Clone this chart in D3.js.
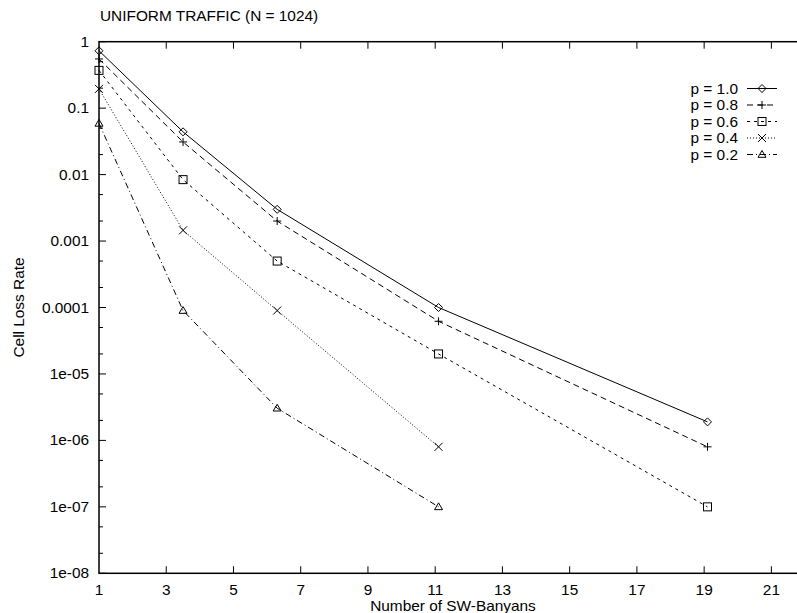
<!DOCTYPE html>
<html>
<head>
<meta charset="utf-8">
<script src="https://cdn.jsdelivr.net/npm/d3@7"></script>
<style>
  body { margin: 0; background: #fff; }
  text { font-family: "Liberation Sans", Arial, sans-serif; fill: #000; font-size: 14px; }
</style>
</head>
<body>
<div id="chart"></div>
<script>
// data
const xValues = [1, 3.5, 6.3, 11.1, 19.1];
const p10 = [0.73, 0.044, 0.003, 0.0001, 1.9e-6];
const p08 = [0.55, 0.031, 0.002, 6.2e-5, 8e-7];
const p06 = [0.37, 0.0084, 0.0005, 2.0e-5, 1e-7];
const p04 = [0.195, 0.00145, 9e-5, 8e-7];
const p02 = [0.059, 9e-5, 3.05e-6, 1e-7];
const seriesNames = ['p = 1.0', 'p = 0.8', 'p = 0.6', 'p = 0.4', 'p = 0.2'];
const xTicks = [1, 3, 5, 7, 9, 11, 13, 15, 17, 19, 21];
const yTickLabels = ['1', '0.1', '0.01', '0.001', '0.0001', '1e-05', '1e-06', '1e-07', '1e-08'];

const width = 797, height = 613;
const margin = {top: 41.7, right: -8, bottom: 39.7, left: 99};
const stretch = 1.1; // the original font is a bit wider than Liberation Sans

const svg = d3.select('#chart').append('svg')
  .attr('width', width)
  .attr('height', height);

const x = d3.scaleLinear().domain([1, 22]).range([margin.left, width - margin.right]);
const y = d3.scaleLog().domain([1e-8, 1]).range([height - margin.bottom, margin.top]);

// text placed at (tx, ty), widened horizontally
function label(tx, ty, str, anchor, rot) {
  const g = svg.append('g')
    .attr('transform', `translate(${tx},${ty})` + (rot ? ` rotate(${rot})` : '') + ` scale(${stretch},1)`);
  g.append('text').attr('text-anchor', anchor || 'start').text(str);
}

const series = [
  {name: seriesNames[0], values: p10, dash: null, sym: 'diamond'},
  {name: seriesNames[1], values: p08, dash: '6,4', sym: 'plus'},
  {name: seriesNames[2], values: p06, dash: '3,4', sym: 'square'},
  {name: seriesNames[3], values: p04, dash: '1,2', sym: 'cross'},
  {name: seriesNames[4], values: p02, dash: '6,3,1,3', sym: 'triangle'}
];

// frame
const x0 = x(1), x1 = x(22), yTop = y(1), yBot = y(1e-8);
svg.append('rect')
  .attr('x', x0).attr('y', yTop)
  .attr('width', x1 - x0).attr('height', yBot - yTop)
  .attr('fill', 'none').attr('stroke', '#000').attr('stroke-width', 1.5);

// y ticks: majors at each decade, minors at 2 and 5
const yMajor = d3.range(0, 9).map(i => Math.pow(10, -i));
const yMinor = [];
for (let e = -8; e < 0; e++) {
  yMinor.push(2 * Math.pow(10, e), 5 * Math.pow(10, e));
}
svg.append('g').selectAll('line.ymaj')
  .data(yMajor).enter().append('line')
  .attr('x1', x0).attr('x2', x0 + 7)
  .attr('y1', d => y(d)).attr('y2', d => y(d))
  .attr('stroke', '#000').attr('stroke-width', 1);
svg.append('g').selectAll('line.ymin')
  .data(yMinor).enter().append('line')
  .attr('x1', x0).attr('x2', x0 + 4)
  .attr('y1', d => y(d)).attr('y2', d => y(d))
  .attr('stroke', '#000').attr('stroke-width', 1);
yMajor.forEach((d, i) => label(x0 - 10, y(d) + 5, yTickLabels[i], 'end'));

// x ticks, bottom and mirrored on top
svg.append('g').selectAll('line.xb')
  .data(xTicks.slice(1)).enter().append('line')
  .attr('x1', d => x(d)).attr('x2', d => x(d))
  .attr('y1', yBot).attr('y2', yBot - 7)
  .attr('stroke', '#000').attr('stroke-width', 1);
svg.append('g').selectAll('line.xt')
  .data(xTicks.slice(1)).enter().append('line')
  .attr('x1', d => x(d)).attr('x2', d => x(d))
  .attr('y1', yTop).attr('y2', yTop + 7)
  .attr('stroke', '#000').attr('stroke-width', 1);
xTicks.forEach(d => label(x(d), yBot + 22, d, 'middle'));

// titles
label(100, 21, 'UNIFORM TRAFFIC (N = 1024)', 'start');
label(453, 611, 'Number of SW-Banyans', 'middle');
label(24, (yTop + yBot) / 2, 'Cell Loss Rate', 'middle', -90);

// markers
function marker(g, sym, cx, cy) {
  const s = 4;
  if (sym === 'diamond') {
    g.append('path').attr('d', `M${cx},${cy - s}L${cx + s},${cy}L${cx},${cy + s}L${cx - s},${cy}Z`);
  } else if (sym === 'plus') {
    g.append('path').attr('d', `M${cx - s},${cy}H${cx + s}M${cx},${cy - s}V${cy + s}`);
  } else if (sym === 'square') {
    g.append('rect').attr('x', cx - s).attr('y', cy - s).attr('width', 2 * s).attr('height', 2 * s);
  } else if (sym === 'cross') {
    g.append('path').attr('d', `M${cx - s},${cy - s}L${cx + s},${cy + s}M${cx - s},${cy + s}L${cx + s},${cy - s}`);
  } else if (sym === 'triangle') {
    g.append('path').attr('d', `M${cx},${cy - s}L${cx + s},${cy + s * 0.7}L${cx - s},${cy + s * 0.7}Z`);
  }
}

const line = d3.line().x(d => x(d[0])).y(d => y(d[1]));

series.forEach((s, k) => {
  const pts = s.values.map((v, i) => [xValues[i], v]);
  svg.append('path')
    .datum(pts)
    .attr('d', line)
    .attr('fill', 'none')
    .attr('stroke', '#000')
    .attr('stroke-width', 1)
    .attr('stroke-dasharray', s.dash);
  const g = svg.append('g').attr('fill', 'none').attr('stroke', '#000').attr('stroke-width', 1);
  pts.forEach(d => marker(g, s.sym, x(d[0]), y(d[1])));

  // legend row
  const ly = 88.5 + k * 16.5;
  label(738, ly + 5, s.name, 'end');
  svg.append('line')
    .attr('x1', 747).attr('x2', 777).attr('y1', ly).attr('y2', ly)
    .attr('stroke', '#000').attr('stroke-width', 1)
    .attr('stroke-dasharray', s.dash);
  const lg = svg.append('g').attr('fill', 'none').attr('stroke', '#000').attr('stroke-width', 1);
  marker(lg, s.sym, 762, ly);
});
</script>
</body>
</html>
